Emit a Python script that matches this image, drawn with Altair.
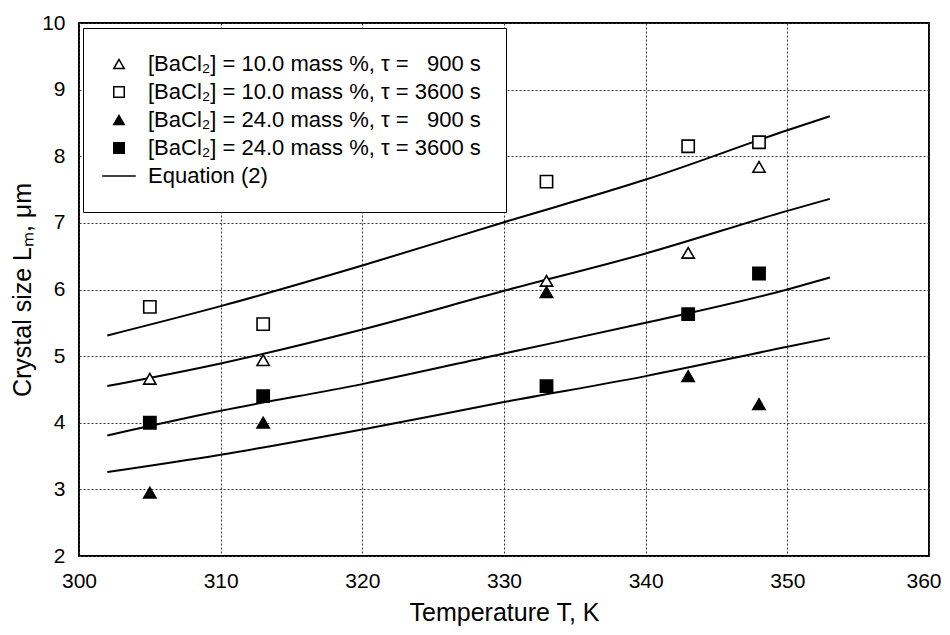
import altair as alt
import pandas as pd

# ---- data ----
temps = [305, 313, 333, 343, 348]
series_names = [
    "[BaCl\u2082] = 10.0 mass %, \u03c4 = \u2007900 s",
    "[BaCl\u2082] = 10.0 mass %, \u03c4 = 3600 s",
    "[BaCl\u2082] = 24.0 mass %, \u03c4 = \u2007900 s",
    "[BaCl\u2082] = 24.0 mass %, \u03c4 = 3600 s",
]
eq_name = "Equation (2)"
open_tri_10_900 = [4.66, 4.94, 6.13, 6.55, 7.84]
open_sq_10_3600 = [5.74, 5.48, 7.62, 8.15, 8.21]
fill_tri_24_900 = [2.95, 4.00, 5.96, 4.70, 4.28]
fill_sq_24_3600 = [4.00, 4.40, 4.55, 5.63, 6.24]

eq_temps = [302, 310, 320, 330, 340, 350, 353]
eq_curve_1 = [5.31, 5.75, 6.36, 7.01, 7.65, 8.39, 8.60]
eq_curve_2 = [4.55, 4.89, 5.40, 5.98, 6.54, 7.18, 7.36]
eq_curve_3 = [3.81, 4.18, 4.58, 5.04, 5.50, 6.00, 6.18]
eq_curve_4 = [3.26, 3.52, 3.90, 4.31, 4.70, 5.14, 5.27]

x_ticks = [300, 310, 320, 330, 340, 350, 360]
y_ticks = [2, 3, 4, 5, 6, 7, 8, 9, 10]

# ---- tables ----
pts = []
for name, vals in zip(series_names, [open_tri_10_900, open_sq_10_3600, fill_tri_24_900, fill_sq_24_3600]):
    for t, v in zip(temps, vals):
        pts.append({"T": t, "L": v, "series": name})
pts = pd.DataFrame(pts)

lines = []
for i, vals in enumerate([eq_curve_1, eq_curve_2, eq_curve_3, eq_curve_4]):
    for t, v in zip(eq_temps, vals):
        lines.append({"T": t, "L": v, "curve": i})
lines = pd.DataFrame(lines)

domain = series_names + [eq_name]
shape_range = ["triangle-up", "square", "triangle-up", "square", "M-3.2,0L3.2,0"]
fill_range = ["white", "white", "black", "black", "transparent"]
stroke_range = ["black"] * 5

FONT = "Liberation Sans"

xscale = alt.Scale(domain=[300, 360], nice=False, zero=False)
yscale = alt.Scale(domain=[2, 10], nice=False, zero=False)

last_x = x_ticks[-1]
xaxis = alt.Axis(
    values=x_ticks, format="d", title="Temperature T, K",
    labelAlign={"condition": {"test": f"datum.value === {last_x}", "value": "right"}, "value": "center"},
    labelOffset={"condition": {"test": f"datum.value === {last_x}", "value": 12}, "value": 0},
)
yaxis = alt.Axis(values=y_ticks, format="d", title="Crystal size L\u2098, \u03bcm")

line_layer = alt.Chart(lines).mark_line(color="black", strokeWidth=2, interpolate="monotone").encode(
    x=alt.X("T:Q", scale=xscale, axis=xaxis),
    y=alt.Y("L:Q", scale=yscale, axis=yaxis),
    detail="curve:N",
)

legend = alt.Legend(
    title=None, orient="none", legendX=4, legendY=5,
    padding=25, rowPadding=6, labelOffset=18,
    symbolSize=110, symbolStrokeColor="black", symbolStrokeWidth=1.5,
    fillColor="white", strokeColor="black",
    labelFontSize=22, labelFont=FONT, labelColor="black", labelLimit=600,
)

point_layer = alt.Chart(pts).mark_point(filled=True, strokeWidth=1.6, size=150, opacity=1).encode(
    x=alt.X("T:Q", scale=xscale),
    y=alt.Y("L:Q", scale=yscale),
    shape=alt.Shape("series:N", scale=alt.Scale(domain=domain, range=shape_range), legend=legend),
    fill=alt.Fill("series:N", scale=alt.Scale(domain=domain, range=fill_range), legend=legend),
    stroke=alt.Stroke("series:N", scale=alt.Scale(domain=domain, range=stroke_range), legend=legend),
)

chart = alt.layer(line_layer, point_layer).properties(
    width=850, height=533,
    autosize=alt.AutoSizeParams(type="none"),
    padding={"left": 71, "top": 15, "right": 12, "bottom": 71},
    background="white",
).configure_view(
    stroke="black", strokeWidth=2,
).configure_axis(
    domain=False, ticks=False,
    grid=True, gridColor="#333333", gridDash=[2, 2], gridWidth=1, gridOpacity=1,
    labelFont=FONT, labelFontSize=21, labelColor="black", labelFlush=False,
    titleFont=FONT, titleFontSize=25, titleColor="black", titleFontWeight="normal",
).configure_axisX(
    labelPadding=14, titlePadding=9,
).configure_axisY(
    labelPadding=14, titlePadding=6,
)

chart.save("out.html", embed_options={"renderer": "svg", "actions": False})
